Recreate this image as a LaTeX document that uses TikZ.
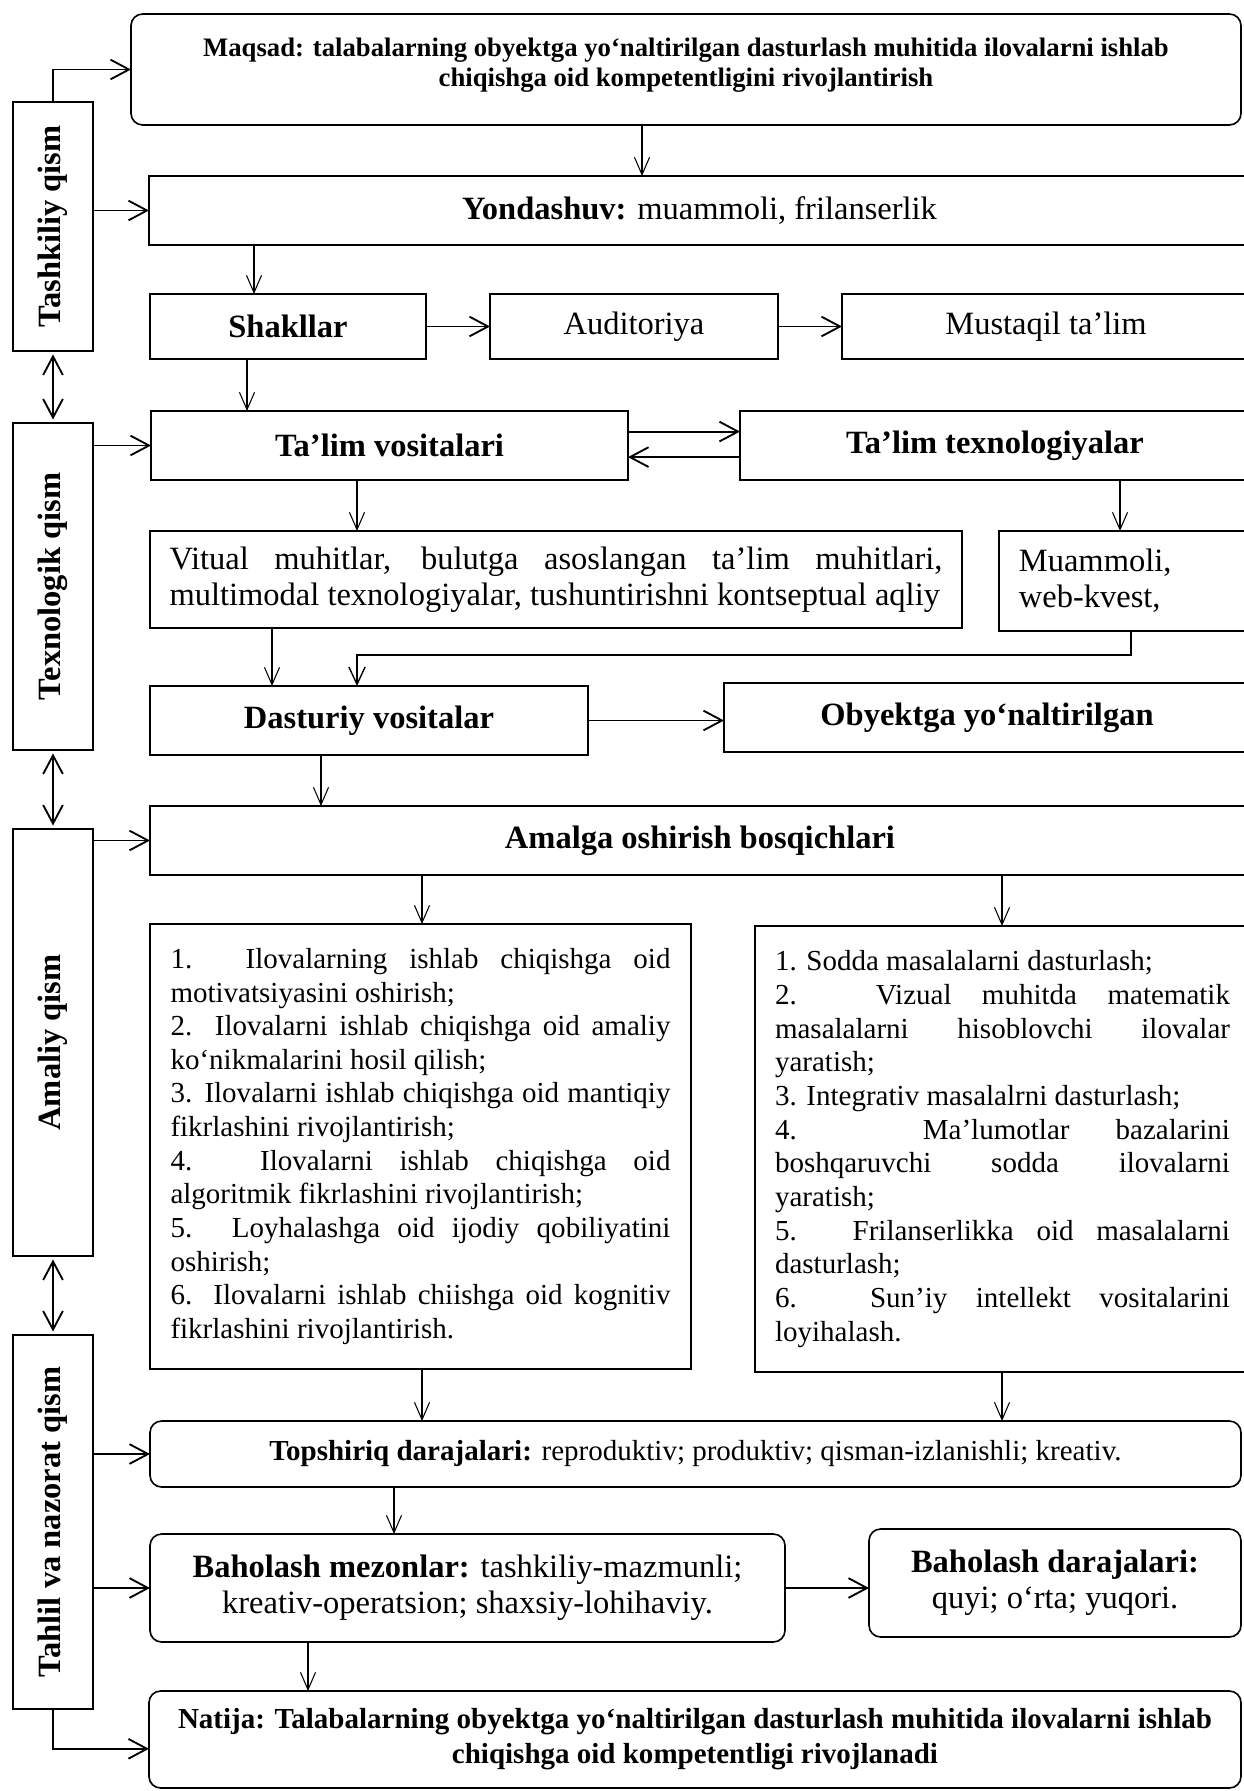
\documentclass[tikz,border=0pt]{standalone}
\usepackage{fontspec}
\setmainfont{Liberation Serif}
\usepackage{graphicx}
\usetikzlibrary{arrows.meta,calc}
\newcommand{\pxu}{0.4308pt}
\setlength{\parindent}{0pt}
\hyphenpenalty=10000
\exhyphenpenalty=10000
\tikzset{
  box/.style={draw,line width=0.7pt,inner sep=0pt,outer sep=0pt,anchor=north west,
    align=center,font=\fontsize{14}{15.5}\selectfont},
  rbox/.style={box,rounded corners=5pt},
  side/.style={box},
  sz/.style 2 args={minimum width=#1*\pxu,minimum height=#2*\pxu},
  lst/.style={box,align=justify,font=\fontsize{12.5}{14.5}\selectfont},
  harr/.style={-{Straight Barb[length=8pt,width=8.5pt]},line width=0.8pt},
  marr/.style={-{Straight Barb[length=7.5pt,width=7pt]},line width=0.6pt},
  varr/.style={-{Straight Barb[length=7.5pt,width=6.5pt]},line width=0.45pt},
  darr/.style={{Straight Barb[length=8pt,width=8.5pt]}-{Straight Barb[length=8pt,width=8.5pt]},
    line width=0.8pt,shorten <=1.5pt,shorten >=1.5pt}
}
\begin{document}
\begin{tikzpicture}[x=\pxu,y=-\pxu]
  \useasboundingbox (0,0) rectangle (1243,1791);
  % left column
  \node[side,sz={80}{249}] (tashkiliy) at (13,102) {\rotatebox{90}{\bfseries Tashkiliy qism}};
  \node[side,sz={80}{327}] (texno) at (13,423) {\rotatebox{90}{\bfseries Texnologik qism}};
  \node[side,sz={80}{427}] (amaliy) at (13,829) {\rotatebox{90}{\bfseries Amaliy qism}};
  \node[side,sz={80}{374}] (tahlil) at (13,1335) {\rotatebox{90}{\bfseries Tahlil va nazorat qism}};
  % main column
  \node[rbox,sz={1110}{111},font=\fontsize{11.5}{13}\selectfont\bfseries,text depth=6.4pt] (maqsad) at (131,14)
    {Maqsad: talabalarning obyektga yo‘naltirilgan dasturlash muhitida ilovalarni ishlab\\chiqishga oid kompetentligini rivojlantirish};
  \node[box,sz={1101}{69}] (yond) at (149,176) {\textbf{Yondashuv:} muammoli, frilanserlik};
  \node[box,sz={276}{65}] (shakl) at (150,294) {\textbf{Shakllar}};
  \node[box,sz={288}{65}] (audit) at (490,294) {Auditoriya};
  \node[box,sz={408}{65}] (mustaq) at (842,294) {Mustaqil ta’lim};
  \node[box,sz={477}{69}] (vosit) at (151,411) {\textbf{Ta’lim vositalari}};
  \node[box,sz={510}{69}] (texnol) at (740,411) {\textbf{Ta’lim texnologiyalar}};
  \node[box,sz={812}{97},align=justify,text width=333pt] (vitual) at (150,531)
    {\parfillskip=0pt\relax Vitual muhitlar, bulutga asoslangan ta’lim muhitlari,\linebreak multimodal texnologiyalar, tushuntirishni kontseptual aqliy};
  \node[box,sz={251}{100},align=left,text width=91pt] (muam) at (999,531) {Muammoli,\\web-kvest,};
  \node[box,sz={438}{69}] (dast) at (150,686) {\textbf{Dasturiy vositalar}};
  \node[box,sz={526}{69}] (obyekt) at (724,683) {\textbf{Obyektga yo‘naltirilgan}};
  \node[box,sz={1100}{69}] (amalga) at (150,806) {\textbf{Amalga oshirish bosqichlari}};
  \node[lst,sz={541}{445},text width=215.4pt] (listl) at (150,924) {%
    1. Ilovalarning ishlab chiqishga oid\linebreak motivatsiyasini oshirish;\par
    2. Ilovalarni ishlab chiqishga oid amaliy\linebreak ko‘nikmalarini hosil qilish;\par
    3. Ilovalarni ishlab chiqishga oid mantiqiy\linebreak fikrlashini rivojlantirish;\par
    4. Ilovalarni ishlab chiqishga oid\linebreak algoritmik fikrlashini rivojlantirish;\par
    5. Loyhalashga oid ijodiy qobiliyatini\linebreak oshirish;\par
    6. Ilovalarni ishlab chiishga oid kognitiv\linebreak fikrlashini rivojlantirish.};
  \node[lst,sz={495}{446},text width=196pt] (listr) at (755,926) {%
    1. Sodda masalalarni dasturlash;\par
    2. Vizual muhitda matematik\linebreak masalalarni hisoblovchi ilovalar\linebreak yaratish;\par
    3. Integrativ masalalrni dasturlash;\par
    4. Ma’lumotlar bazalarini\linebreak boshqaruvchi sodda ilovalarni\linebreak yaratish;\par
    5. Frilanserlikka oid masalalarni\linebreak dasturlash;\par
    6. Sun’iy intellekt vositalarini\linebreak loyihalash.};
  \node[rbox,sz={1091}{66},font=\fontsize{12.5}{14}\selectfont] (topsh) at (150,1421)
    {\textbf{Topshiriq darajalari:} reproduktiv; produktiv; qisman-izlanishli; kreativ.};
  \node[rbox,sz={635}{108}] (mezon) at (150,1534) {\textbf{Baholash mezonlar:} tashkiliy-mazmunli;\\kreativ-operatsion; shaxsiy-lohihaviy.};
  \node[rbox,sz={372}{108}] (daraj) at (869,1529) {\textbf{Baholash darajalari:}\\quyi; o‘rta; yuqori.};
  \node[rbox,sz={1092}{97},font=\fontsize{12.5}{15}\selectfont\bfseries] (natija) at (149,1691)
    {Natija: Talabalarning obyektga yo‘naltirilgan dasturlash muhitida ilovalarni ishlab\\chiqishga oid kompetentligi rivojlanadi};
  % connectors from the left column
  \draw[harr] (tashkiliy.north) |- (maqsad.west);
  \draw[harr] (tashkiliy.east |- yond.west) -- (yond.west);
  \draw[harr] (texno.east |- vosit.west) -- (vosit.west);
  \draw[harr] (amaliy.east |- amalga.west) -- (amalga.west);
  \draw[harr] (tahlil.east |- topsh.west) -- (topsh.west);
  \draw[harr] (tahlil.east |- mezon.west) -- (mezon.west);
  \draw[harr] (tahlil.south) |- ([yshift=-4pt]natija.west);
  \draw[darr] (tashkiliy.south) -- (texno.north);
  \draw[darr] (texno.south) -- (amaliy.north);
  \draw[darr] (amaliy.south) -- (tahlil.north);
  % main flow
  \draw[varr] (maqsad.south -| 642,0) -- (yond.north -| 642,0);
  \draw[varr] (yond.south -| 254,0) -- (shakl.north -| 254,0);
  \draw[harr] (shakl.east) -- (audit.west);
  \draw[harr] (audit.east) -- (mustaq.west);
  \draw[varr] (shakl.south -| 247,0) -- (vosit.north -| 247,0);
  \draw[harr] ([yshift=6pt]vosit.east) -- ([yshift=6pt]texnol.west);
  \draw[harr] ([yshift=-5pt]texnol.west) -- ([yshift=-5pt]vosit.east);
  \draw[varr] (vosit.south -| 357,0) -- (vitual.north -| 357,0);
  \draw[varr] (texnol.south -| 1120,0) -- (muam.north -| 1120,0);
  \draw[varr] (vitual.south -| 272,0) -- (dast.north -| 272,0);
  \draw[marr] (muam.south -| 1131,0) -- ++(0,24) -| (dast.north -| 357,0);
  \draw[harr] (dast.east) -- (obyekt.west |- dast.east);
  \draw[varr] (dast.south -| 321,0) -- (amalga.north -| 321,0);
  \draw[varr] (amalga.south -| 422,0) -- (listl.north -| 422,0);
  \draw[varr] (amalga.south -| 1002,0) -- (listr.north -| 1002,0);
  \draw[varr] (listl.south -| 422,0) -- (topsh.north -| 422,0);
  \draw[varr] (listr.south -| 1002,0) -- (topsh.north -| 1002,0);
  \draw[varr] (topsh.south -| 394,0) -- (mezon.north -| 394,0);
  \draw[harr] (mezon.east) -- (daraj.west |- mezon.east);
  \draw[varr] (mezon.south -| 308,0) -- (natija.north -| 308,0);
\end{tikzpicture}
\end{document}
